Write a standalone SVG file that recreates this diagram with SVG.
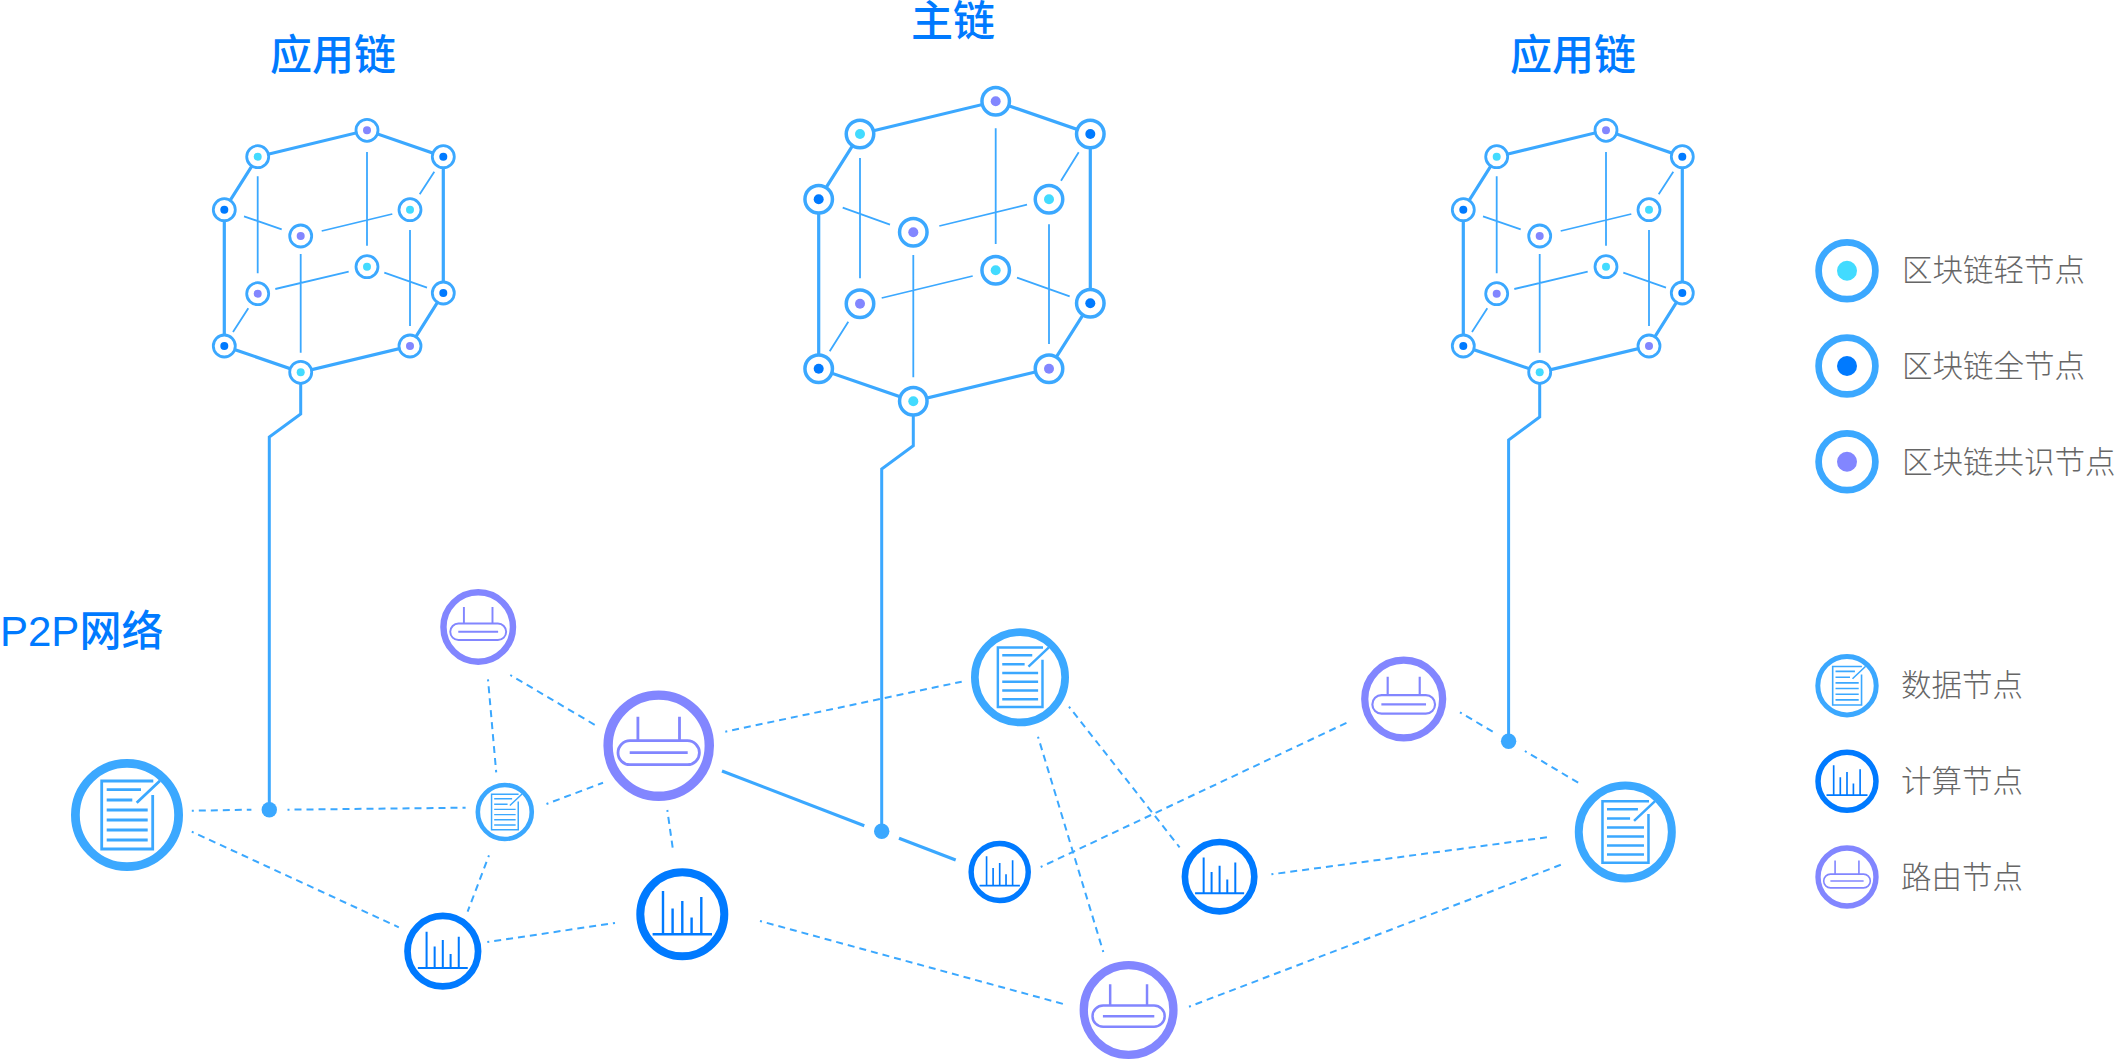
<svg xmlns="http://www.w3.org/2000/svg" xmlns:xlink="http://www.w3.org/1999/xlink" width="2116" height="1060" viewBox="0 0 2116 1060">
<style>
text{font-family:"Liberation Sans","Noto Sans CJK SC",sans-serif}
.title{font-size:42px;fill:#007aff;font-weight:500}
.leg{font-size:30.5px;fill:#666;font-family:"Noto Sans CJK SC",sans-serif;font-weight:300}
.thick{fill:none;stroke:#3ba8ff;stroke-width:3.2;stroke-linejoin:miter}
.thin{fill:none;stroke:#3ba8ff;stroke-width:1.8}
.dash{fill:none;stroke:#3ba8ff;stroke-width:2;stroke-dasharray:7 5;stroke-dashoffset:5}
.solid{fill:none;stroke:#3ba8ff;stroke-width:3.2}
.tail{fill:none;stroke:#3ba8ff;stroke-width:3}
.dot{fill:#3ba8ff}
.ic{fill:none;stroke-width:2.8}
</style>
<defs>
<g id="nc"><circle r="11" fill="#fff" stroke="#3ba8ff" stroke-width="2.8"/><circle r="4" fill="#42dbff"/></g>
<g id="nb"><circle r="11" fill="#fff" stroke="#3ba8ff" stroke-width="2.8"/><circle r="4" fill="#007aff"/></g>
<g id="np"><circle r="11" fill="#fff" stroke="#3ba8ff" stroke-width="2.8"/><circle r="4" fill="#8286ff"/></g>
<g id="doc">
<circle r="51.6" fill="#fff" stroke="#3ba8ff" stroke-width="8.8"/>
<path class="ic" stroke="#3ba8ff" d="M26.3-34H-25.3V34H25.7V-20M-20.3-25.3H14M-20.3-15H5.3M-20.3-5H20.7M-20.3 5H20.7M-20.3 15H20.7M-20.3 25H20.7M9.7-12.3L33-34.3"/>
</g>
<g id="router">
<circle r="50.6" fill="#fff" stroke="#8286ff" stroke-width="9.4"/>
<path class="ic" stroke="#8286ff" d="M-20.8-29V-5M20.8-29V-5M-29 7H29"/>
<rect x="-40.7" y="-5" width="81.4" height="24" rx="12" class="ic" stroke="#8286ff"/>
</g>
<g id="compute">
<circle r="42" fill="#fff" stroke="#007aff" stroke-width="8"/>
<path class="ic" stroke="#007aff" style="stroke-width:2.4" d="M-19.3-23.3V20M-9.7-5.7V20M0-13.3V20M9.3 3.3V20M19-17.3V20M-29.7 20H29.7"/>
</g>
</defs>

<g id="connectors">
<g id="left-edges">
<path class="thick" d="M257.7 156.7L367 130.3L443.3 156.7V293L410 346L300.7 372.3L224.3 346V209.7Z"/>
<path class="thin" d="M367 152V245.7M257.7 176.3V273.3M410 230V326M300.7 254V352.7M434.3 171.7L419.7 194.3M244 216.3L281.7 229.3M321.7 231L392.3 214M275.3 289L348.7 271.7M384.3 272.7L427 287.7M248.3 308.3L233 332"/>
</g>
<g id="main-edges">
<path class="thick" d="M860 134L995.7 101.3L1090.3 134V303.3L1049 368.7L913.3 401.3L818.7 368.7V199.3Z"/>
<path class="thin" d="M995.7 128.3V244M860 158V278.3M1049 224.3V344M913.3 255V377.3M1078.7 152.3L1061 180.7M842.7 207.7L890 224.7M939.3 226L1027 204.7M881.7 298L972.7 276M1017 277.7L1069.7 296.3M848.3 321.7L829.7 351.3"/>
</g>
<g id="right-edges" transform="translate(1239 0)">
<path class="thick" d="M257.7 156.7L367 130.3L443.3 156.7V293L410 346L300.7 372.3L224.3 346V209.7Z"/>
<path class="thin" d="M367 152V245.7M257.7 176.3V273.3M410 230V326M300.7 254V352.7M434.3 171.7L419.7 194.3M244 216.3L281.7 229.3M321.7 231L392.3 214M275.3 289L348.7 271.7M384.3 272.7L427 287.7M248.3 308.3L233 332"/>
</g>
<path class="tail" d="M300.7 372V414L269.3 437V810"/>
<path class="tail" d="M913.3 401V445.7L881.7 469V831"/>
<path class="tail" d="M1539.7 372V417L1508.6 440V741"/>
<circle class="dot" cx="269.3" cy="809.7" r="7.7"/>
<circle class="dot" cx="881.7" cy="831.3" r="7.7"/>
<circle class="dot" cx="1508.6" cy="741.3" r="7.7"/>
<path class="dash" d="M191.8 810.7L251.4 809.7"/>
<path class="dash" d="M287.5 809.7L465.6 807.7"/>
<path class="dash" d="M191.8 831.7L398.8 927.3"/>
<path class="dash" d="M488 679.3L496.2 772.3"/>
<path class="dash" d="M510.3 675L595 725"/>
<path class="dash" d="M489 855.3L467.6 911.7"/>
<path class="dash" d="M487.3 942L615 923"/>
<path class="dash" d="M546.5 804L603 782.7"/>
<path class="dash" d="M667.3 810L673 850"/>
<path class="dash" d="M725.3 731.7L961.7 681.7"/>
<path class="solid" d="M722 771L864.3 825.7"/>
<path class="solid" d="M899 838.3L955.7 860"/>
<path class="dash" d="M760 921L1063.4 1004"/>
<path class="dash" d="M1040.7 867L1349 721.7"/>
<path class="dash" d="M1069 706.7L1179.6 847.3"/>
<path class="dash" d="M1038 736.7L1103.3 952"/>
<path class="dash" d="M1460 712.3L1492.7 731.7"/>
<path class="dash" d="M1524.9 751L1582 785"/>
<path class="dash" d="M1271.4 874.3L1551.4 836.7"/>
<path class="dash" d="M1189 1006.7L1562.9 864"/>
</g>

<g id="left-chain">
<g id="l1"><use href="#np" x="367" y="130.3"/></g>
<g id="l2"><use href="#nc" x="257.7" y="156.7"/></g>
<g id="l3"><use href="#nb" x="443.3" y="156.7"/></g>
<g id="l4"><use href="#nb" x="224.3" y="209.7"/></g>
<g id="l5"><use href="#nc" x="410" y="209.7"/></g>
<g id="l6"><use href="#np" x="300.7" y="236"/></g>
<g id="l7"><use href="#nc" x="367" y="266.7"/></g>
<g id="l8"><use href="#np" x="257.7" y="293.7"/></g>
<g id="l9"><use href="#nb" x="443.3" y="293"/></g>
<g id="l10"><use href="#nb" x="224.3" y="346"/></g>
<g id="l11"><use href="#np" x="410" y="346"/></g>
<g id="l12"><use href="#nc" x="300.7" y="372.3"/></g>
</g>
<g id="main-chain">
<g id="m1" transform="translate(995.7 101.3) scale(1.25)"><use href="#np"/></g>
<g id="m2" transform="translate(860 134) scale(1.25)"><use href="#nc"/></g>
<g id="m3" transform="translate(1090.3 134) scale(1.25)"><use href="#nb"/></g>
<g id="m4" transform="translate(818.7 199.3) scale(1.25)"><use href="#nb"/></g>
<g id="m5" transform="translate(1049 199.3) scale(1.25)"><use href="#nc"/></g>
<g id="m6" transform="translate(913.3 232.3) scale(1.25)"><use href="#np"/></g>
<g id="m7" transform="translate(995.7 270.3) scale(1.25)"><use href="#nc"/></g>
<g id="m8" transform="translate(860 303.7) scale(1.25)"><use href="#np"/></g>
<g id="m9" transform="translate(1090.3 303.3) scale(1.25)"><use href="#nb"/></g>
<g id="m10" transform="translate(818.7 368.7) scale(1.25)"><use href="#nb"/></g>
<g id="m11" transform="translate(1049 368.7) scale(1.25)"><use href="#np"/></g>
<g id="m12" transform="translate(913.3 401.3) scale(1.25)"><use href="#nc"/></g>
</g>
<g id="right-chain" transform="translate(1239 0)">
<g id="r1"><use href="#np" x="367" y="130.3"/></g>
<g id="r2"><use href="#nc" x="257.7" y="156.7"/></g>
<g id="r3"><use href="#nb" x="443.3" y="156.7"/></g>
<g id="r4"><use href="#nb" x="224.3" y="209.7"/></g>
<g id="r5"><use href="#nc" x="410" y="209.7"/></g>
<g id="r6"><use href="#np" x="300.7" y="236"/></g>
<g id="r7"><use href="#nc" x="367" y="266.7"/></g>
<g id="r8"><use href="#np" x="257.7" y="293.7"/></g>
<g id="r9"><use href="#nb" x="443.3" y="293"/></g>
<g id="r10"><use href="#nb" x="224.3" y="346"/></g>
<g id="r11"><use href="#np" x="410" y="346"/></g>
<g id="r12"><use href="#nc" x="300.7" y="372.3"/></g>
</g>

<g id="p2p-nodes">
<g id="data1" transform="translate(127 815)"><use href="#doc"/></g>
<g id="data2" transform="translate(504.8 812) scale(.523)"><use href="#doc"/></g>
<g id="data3" transform="translate(1020 677.3) scale(.875)"><use href="#doc"/></g>
<g id="data4" transform="translate(1625.3 832) scale(.902)"><use href="#doc"/></g>
<g id="router1" transform="translate(478.2 627) scale(.687)"><use href="#router"/></g>
<g id="router2" transform="translate(658.7 745.7)"><use href="#router"/></g>
<g id="router3" transform="translate(1403.7 699) scale(.77)"><use href="#router"/></g>
<g id="router4" transform="translate(1128.6 1010) scale(.886)"><use href="#router"/></g>
<g id="compute1" transform="translate(442.8 951.2) scale(.84)"><use href="#compute"/></g>
<g id="compute2" transform="translate(682.3 914.3)"><use href="#compute"/></g>
<g id="compute3" transform="translate(999.7 872) scale(.68)"><use href="#compute"/></g>
<g id="compute4" transform="translate(1219.6 876.7) scale(.826)"><use href="#compute"/></g>
</g>

<g id="titles">
<text class="title" x="270" y="70">应用链</text>
<text class="title" x="911" y="36">主链</text>
<text class="title" x="1510" y="70">应用链</text>
<text class="title" x="0" y="646">P2P网络</text>
</g>

<g id="legend">
<g id="leg-light"><circle cx="1847" cy="270.7" r="28.4" fill="#fff" stroke="#3ba8ff" stroke-width="6.7"/><circle cx="1847" cy="270.7" r="10" fill="#42dbff"/><text class="leg" x="1902" y="281">区块链轻节点</text></g>
<g id="leg-full"><circle cx="1847" cy="366" r="28.4" fill="#fff" stroke="#3ba8ff" stroke-width="6.7"/><circle cx="1847" cy="366" r="10" fill="#007aff"/><text class="leg" x="1902" y="377">区块链全节点</text></g>
<g id="leg-cons"><circle cx="1847" cy="461.7" r="28.4" fill="#fff" stroke="#3ba8ff" stroke-width="6.7"/><circle cx="1847" cy="461.7" r="10" fill="#8286ff"/><text class="leg" x="1902" y="473">区块链共识节点</text></g>
<g id="leg-data"><g transform="translate(1847 685.7) scale(.566)"><use href="#doc"/></g><text class="leg" x="1901" y="696">数据节点</text></g>
<g id="leg-compute"><g transform="translate(1847 781.3) scale(.69)"><use href="#compute"/></g><text class="leg" x="1901" y="792">计算节点</text></g>
<g id="leg-router"><g transform="translate(1847 877) scale(.573)"><use href="#router"/></g><text class="leg" x="1901" y="888">路由节点</text></g>
</g>
</svg>
